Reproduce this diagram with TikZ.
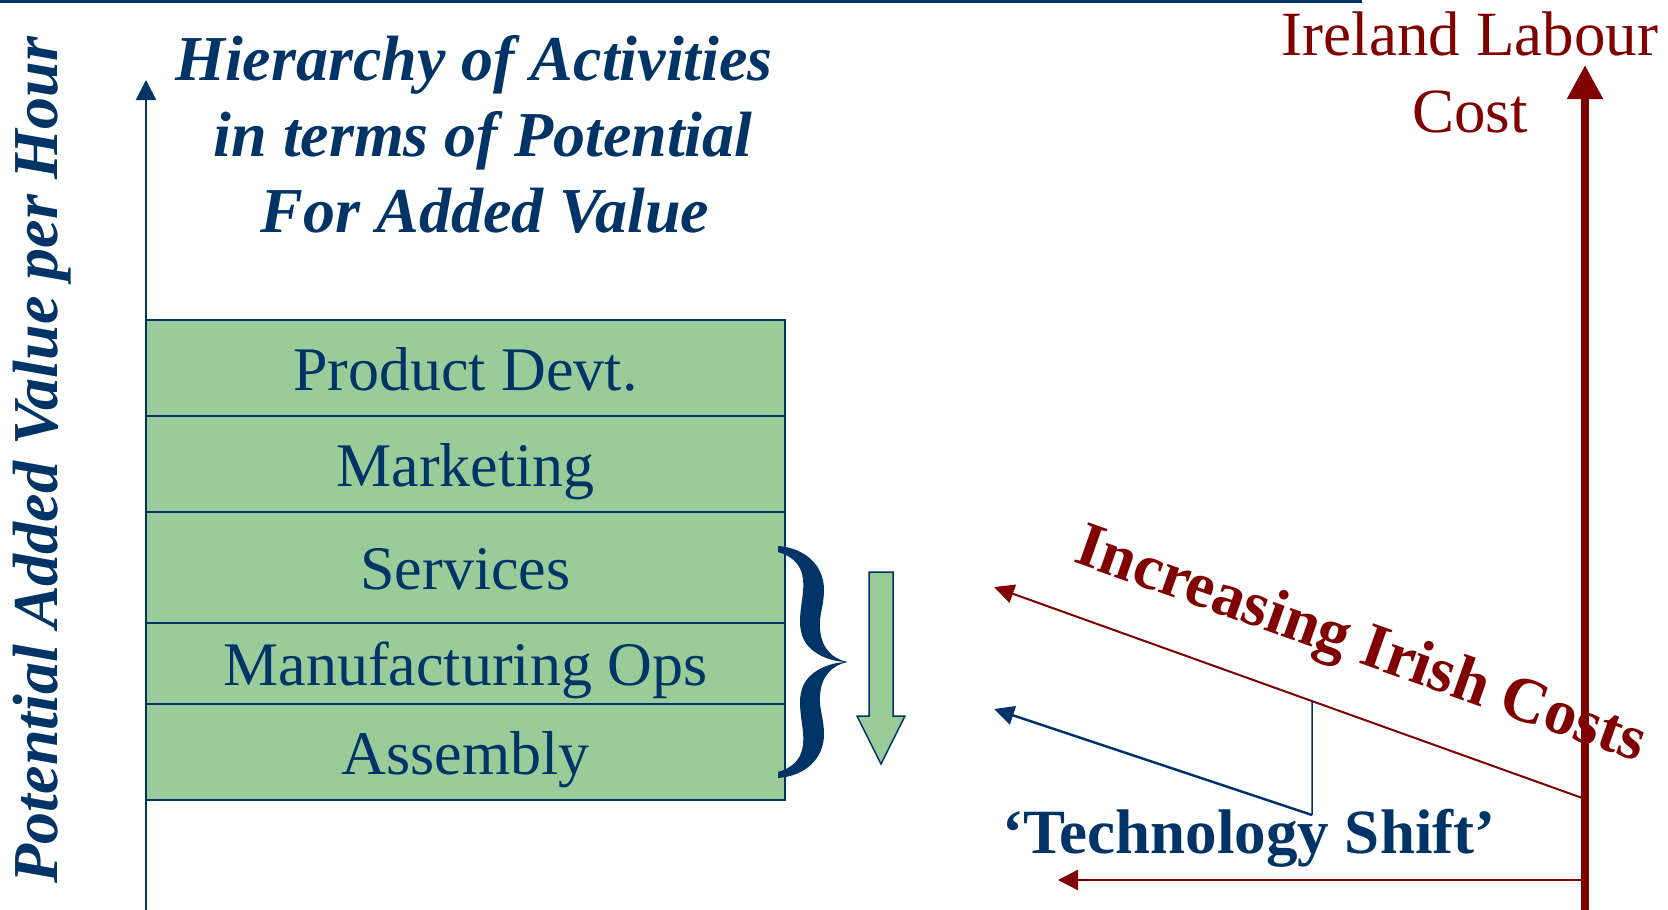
\documentclass[tikz,border=0pt]{standalone}
\usepackage{fontspec}
\setmainfont{Liberation Serif}
\usetikzlibrary{arrows.meta,calc}
\definecolor{dblue}{HTML}{003366}
\definecolor{dred}{HTML}{800000}
\definecolor{lgreen}{HTML}{99CC99}
\begin{document}
\begin{tikzpicture}[x=1pt,y=-1pt,
  row/.style={draw=dblue, line width=2pt, fill=lgreen, minimum width=639pt, inner sep=0pt,
    text=dblue, font=\fontsize{62}{74}\selectfont, text height=44pt, text depth=0pt},
  titletext/.style={anchor=base, inner sep=0pt, text=dblue, font=\fontsize{64}{76}\selectfont\bfseries\itshape},
  redtext/.style={anchor=base, inner sep=0pt, text=dred, font=\fontsize{63}{76}\selectfont},
  tipsmall/.style={-{Triangle[length=20pt,width=19pt]}},
  ]
\useasboundingbox (0,0) rectangle (1668,910);
% top rule
\fill[dblue] (0,0) rectangle (1362,3);
% vertical axis
\coordinate (axb) at (146,912);
\coordinate (axt) at (146,80);
\draw[dblue, line width=2pt, -{Triangle[length=20pt,width=20pt]}] (axb) -- (axt);
% axis label
\node[titletext, rotate=90] (vlabel) at (57,460) {Potential Added Value per Hour};
% title
\node[titletext] (title1) at (474,80) {Hierarchy of Activities};
\node[titletext] (title2) at (483,156) {in terms of Potential};
\node[titletext] (title3) at (485,232) {For Added Value};
% hierarchy rows
\node[row, minimum height=96pt] (pd) at (465.5,368) {Product Devt.};
\node[row, minimum height=96pt] (mk) at (465.5,464) {Marketing};
\node[row, minimum height=111pt] (sv) at (465.5,567.5) {Services};
\node[row, minimum height=81pt] (mf) at (465.5,663.5) {Manufacturing Ops};
\node[row, minimum height=96pt] (as) at (465.5,752) {Assembly};
% brace
\fill[dblue] (778,546) .. controls (805,548) and (824,565) .. (824,590)
  .. controls (824,605) and (819,615) .. (820,628)
  .. controls (821,648) and (832,659) .. (848,662)
  .. controls (832,662) and (812,655) .. (804,640)
  .. controls (798,628) and (800,615) .. (802,600)
  .. controls (805,580) and (805,560) .. (778,552) -- cycle;
\fill[dblue] (778,778) .. controls (805,776) and (824,759) .. (824,734)
  .. controls (824,719) and (819,709) .. (820,696)
  .. controls (821,676) and (832,665) .. (848,662)
  .. controls (832,662) and (812,669) .. (804,684)
  .. controls (798,696) and (800,709) .. (802,724)
  .. controls (805,744) and (805,764) .. (778,772) -- cycle;
% green down arrow
\draw[dblue, line width=1.5pt, fill=lgreen] (869,572) -- (893,572) -- (893,716) -- (905,716)
  -- (881,764) -- (857,716) -- (869,716) -- cycle;
% Ireland labour cost
\node[redtext] (irl1) at (1470,55) {Ireland Labour};
\node[redtext] (irl2) at (1470,132) {Cost};
% increasing irish costs
\node[anchor=base, inner sep=0pt, text=dred, rotate=-19.5,
  font=\fontsize{64}{76}\selectfont\bfseries] (inc) at (1355,662) {Increasing Irish Costs};
% technology shift
\node[anchor=base, inner sep=0pt, text=dblue,
  font=\fontsize{63}{76}\selectfont\bfseries] (tech) at (1249,853) {‘Technology Shift’};
% arrows
\coordinate (d1s) at (1585,799);
\coordinate (d1e) at (994,587);
\coordinate (j) at ($(d1s)!0.4619!(d1e)$);
\coordinate (jb) at (1312,815);
\coordinate (d2e) at (994,709);
\coordinate (bs) at (1585,880);
\coordinate (be) at (1058,880);
\draw[dred, line width=2pt, tipsmall] (d1s) -- (d1e);
\draw[dblue, line width=1.5pt] (j) -- (jb);
\draw[dblue, line width=2.5pt, tipsmall] (jb) -- (d2e);
\draw[dred, line width=2.5pt, -{Triangle[length=20pt,width=20pt]}] (bs) -- (be);
% labour cost arrow
\coordinate (rb) at (1585,912);
\coordinate (rt) at (1585,65);
\draw[dred, line width=8pt, -{Triangle[length=34pt,width=34pt]}] (rb) -- (rt);
\end{tikzpicture}
\end{document}
